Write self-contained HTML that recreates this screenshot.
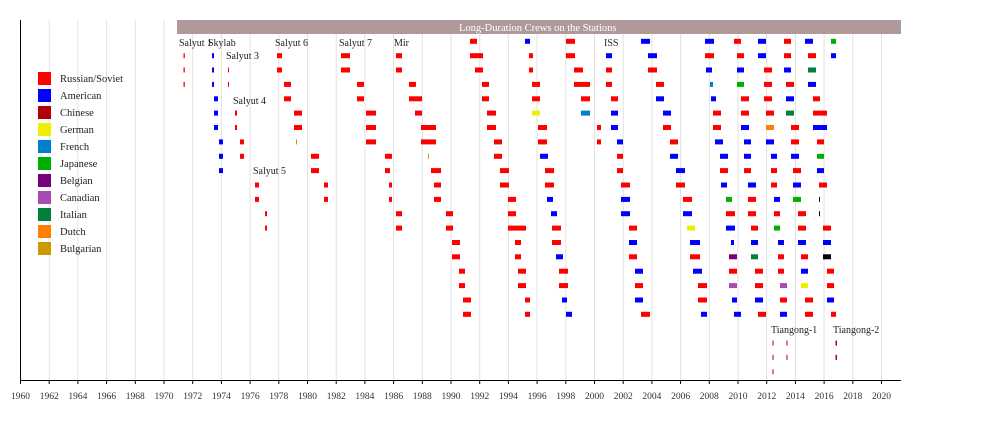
<!DOCTYPE html>
<html><head><meta charset="utf-8"><style>
body{margin:0;background:#fff;}
svg text{font-family:"Liberation Serif",serif;}
</style></head><body>
<svg id="s" width="1000" height="420" xmlns="http://www.w3.org/2000/svg">
<rect x="0" y="0" width="1000" height="420" fill="#fff"/>
<g id="grid"></g>
<rect x="177" y="20" width="724" height="14" fill="#b09999"/>
<text x="459" y="31" font-size="10.5" fill="#fff">Long-Duration Crews on the Stations</text>
<g font-size="10" fill="#222">
<text x="179" y="46">Salyut 1</text>
<text x="208" y="46">Skylab</text>
<text x="226" y="59">Salyut 3</text>
<text x="233" y="104">Salyut 4</text>
<text x="253" y="174">Salyut 5</text>
<text x="275" y="46">Salyut 6</text>
<text x="339" y="46">Salyut 7</text>
<text x="394" y="46">Mir</text>
<text x="604" y="46">ISS</text>
<text x="771" y="333">Tiangong-1</text>
<text x="833" y="333">Tiangong-2</text>
</g>
<g id="bars"></g>
<g id="leg" font-size="10.5" fill="#222"></g>
<line x1="20.5" y1="20" x2="20.5" y2="380" stroke="#000" stroke-width="1"/>
<line x1="20" y1="380.5" x2="901" y2="380.5" stroke="#000" stroke-width="1"/>
<g id="ticks" font-size="9.5" fill="#333"></g>
</svg>
<script>
var NS="http://www.w3.org/2000/svg";
function el(t,a,p,txt){var e=document.createElementNS(NS,t);for(var k in a)e.setAttribute(k,a[k]);if(txt)e.textContent=txt;document.getElementById(p).appendChild(e);return e;}
for(var k=0;k<=30;k++){var x=20.5+k*28.7;
 if(k>0)el('line',{x1:x,y1:20,x2:x,y2:380,stroke:'#e2e2e2','stroke-width':1},'grid');
 el('line',{x1:x,y1:380,x2:x,y2:384,stroke:'#000','stroke-width':1},'ticks');
 el('text',{x:x,y:399,'text-anchor':'middle'},'ticks',String(1960+2*k));}
var C={R:'#ff0000',B:'#0000ff',C:'#b20000',G:'#eeee00',F:'#0080cc',J:'#00b000',E:'#780078',K:'#a84caf',I:'#00803a',D:'#ff8000',U:'#cc9900',X:'#000',T:'#b00000'};
var L=[['R','Russian/Soviet'],['B','American'],['C','Chinese'],['G','German'],['F','French'],['J','Japanese'],['E','Belgian'],['K','Canadian'],['I','Italian'],['D','Dutch'],['U','Bulgarian']];
L.forEach(function(l,i){var y=72+i*17;el('rect',{x:38,y:y,width:13,height:13,fill:C[l[0]]},'leg');el('text',{x:60,y:y+10},'leg',l[1]);});
var D=[
[183.5,184.8,'R',1,2,3],[212,214,'B',1,2,3],[228,229,'R',2,3],
[214,218,'B',4,5,6],[235,237,'R',5,6],[240,244,'R',7,8],[219,223,'B',7,8,9],
[255,259,'R',10,11],[265,267,'R',12,13],
[277,282,'R',1,2],[284,291,'R',3,4],[294,302,'R',5,6],[296,297,'U',7],[311,319,'R',8,9],[324,328,'R',10,11],
[341,350,'R',1,2],[357,364,'R',3,4],[366,376,'R',5,6,7],[385,392,'R',8],[385,390,'R',9],[389,392,'R',10,11],[396,402,'R',12,13],
[396,402,'R',1,2],[409,416,'R',3],[409,422,'R',4],[415,422,'R',5],[421,436,'R',6,7],[428,429,'U',8],[431,441,'R',9],[434,441,'R',10,11],[446,453,'R',12,13],[452,460,'R',14,15],[459,465,'R',16,17],[463,471,'R',18,19],
[470,477,'R',0],[470,483,'R',1],[475,483,'R',2],[482,489,'R',3,4],[487,496,'R',5,6],[494,502,'R',7,8],[500,509,'R',9,10],[508,516,'R',11,12],[508,526,'R',13],[515,521,'R',14,15],[518,526,'R',16,17],[525,530,'R',18,19],
[525,530,'B',0],[529,533,'R',1,2],[532,540,'R',3,4],[532,540,'G',5],[538,547,'R',6,7],[540,548,'B',8],[545,554,'R',9,10],[547,553,'B',11],[551,557,'B',12],[552,561,'R',13,14],[556,563,'B',15],[559,568,'R',16,17],[562,567,'B',18],[566,572,'B',19],
[566,575,'R',0,1],[574,583,'R',2],[574,590,'R',3],[581,590,'R',4],[581,590,'F',5],[597,601,'R',6,7],
[606,612,'B',1],[606,612,'R',2,3],[611,618,'R',4],[611,618,'B',5,6],[617,623,'B',7],[617,623,'R',8,9],[621,630,'R',10],[621,630,'B',11,12],[629,637,'R',13,15],[629,637,'B',14],[635,643,'B',16,18],[635,643,'R',17],[641,650,'R',19],
[641,650,'B',0],[648,657,'B',1],[648,657,'R',2],[656,664,'R',3],[656,664,'B',4],[663,671,'B',5],[663,671,'R',6],[670,678,'R',7],[670,678,'B',8],[676,685,'B',9],[676,685,'R',10],[683,692,'R',11],[683,692,'B',12],[687,695,'G',13],[690,700,'B',14],[690,700,'R',15],[693,702,'B',16],[698,707,'R',17,18],[701,707,'B',19],
[705,714,'B',0],[705,714,'R',1],[706,712,'B',2],[710,713,'F',3],[711,716,'B',4],[713,721,'R',5,6],[715,723,'B',7],[720,728,'B',8],[720,728,'R',9],[721,727,'B',10],[726,732,'J',11],[726,735,'R',12],[726,735,'B',13],[731,734,'B',14],[729,737,'E',15],[729,737,'R',16],[729,737,'K',17],[732,737,'B',18],[734,741,'B',19],
[734,741,'R',0],[737,744,'R',1],[737,744,'B',2],[737,744,'J',3],[741,749,'R',4,5],[741,749,'B',6],[744,751,'B',7,8],[744,751,'R',9],[748,756,'B',10],[748,756,'R',11,12],[751,758,'R',13],[751,758,'B',14],[751,758,'I',15],[755,763,'R',16,17],[755,763,'B',18],[758,766,'R',19],
[758,766,'B',0,1],[764,772,'R',2,3,4],[766,774,'R',5],[766,774,'D',6],[766,774,'B',7],[771,777,'B',8],[771,777,'R',9,10],[774,780,'B',11],[774,780,'R',12],[774,780,'J',13],[778,784,'B',14],[778,784,'R',15,16],[780,787,'K',17],[780,787,'R',18],[780,787,'B',19],
[784,791,'R',0,1],[784,791,'B',2],[786,794,'R',3],[786,794,'B',4],[786,794,'I',5],[791,799,'R',6,7],[791,799,'B',8],[793,801,'R',9],[793,801,'B',10],[793,801,'J',11],[798,806,'R',12,13],[798,806,'B',14],[801,808,'R',15],[801,808,'B',16],[801,808,'G',17],[805,813,'R',18,19],
[805,813,'B',0],[808,816,'R',1],[808,816,'I',2],[808,816,'B',3],[813,820,'R',4],[813,827,'R',5],[813,827,'B',6],[817,824,'R',7],[817,824,'J',8],[817,824,'B',9],[819,827,'R',10],[819,820,'X',11,12],[823,831,'R',13],[823,831,'B',14],[823,831,'X',15],[827,834,'R',16,17],[827,834,'B',18],[831,836,'R',19],
[831,836,'J',0],[831,836,'B',1],
[772.5,773.5,'T',21,22,23],[786.5,787.5,'T',21,22],[835.5,837,'T',21,22]
];
D.forEach(function(d){for(var i=3;i<d.length;i++){var yc=41.3+d[i]*14.37;
 el('rect',{x:d[0],y:(yc-2.5).toFixed(1),width:Math.max(1,d[1]-d[0]),height:5,fill:C[d[2]]},'bars');}});
</script>
</body></html>
